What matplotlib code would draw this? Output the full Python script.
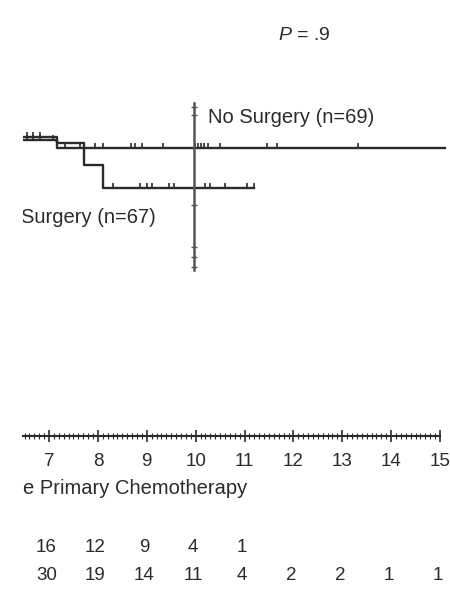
import numpy as np
import matplotlib
matplotlib.use('Agg')
import matplotlib.pyplot as plt
from matplotlib.transforms import blended_transform_factory

plt.rcParams['font.family'] = ['Liberation Sans', 'DejaVu Sans']
plt.rcParams['mathtext.fontset'] = 'custom'
plt.rcParams['mathtext.it'] = 'Liberation Sans:italic'
plt.rcParams['mathtext.rm'] = 'Liberation Sans'

### DATA (years since primary chemo, survival fraction) ###
years = [7, 8, 9, 10, 11, 12, 13, 14, 15]

surg_t = [6.40, 7.17, 7.72, 8.10, 11.20]
surg_s = [0.925, 0.916, 0.847, 0.775, 0.775]
surg_cens = [6.55, 6.67, 6.82, 7.08, 8.31, 8.86, 9.00, 9.10, 9.45, 9.55,
             10.19, 10.29, 10.60, 11.05, 11.20]

nosurg_t = [6.40, 7.17, 15.10]
nosurg_s = [0.934, 0.900, 0.900]
nosurg_cens = [6.55, 6.67, 6.82, 7.33, 7.63, 7.94, 8.10, 8.68, 8.75, 8.90,
               9.33, 9.98, 10.04, 10.10, 10.17, 10.25, 10.50, 11.46, 11.66, 13.32]

# odd vertical bar seen in the scan
vbar_x = 9.965
vbar_y = [1.04, 0.519]
vbar_ticks = [1.028, 1.003, 0.722, 0.591, 0.559, 0.528]

risk_surg = [16, 12, 9, 4, 1]
risk_nosurg = [30, 19, 14, 11, 4, 2, 2, 1, 1]

col = '#2b2b2b'

fig = plt.figure(figsize=(4.5, 5.89), dpi=100)
ax = fig.add_axes([23/450, 153/589, 427/450, 336/589])
ax.set_xlim(6.468, 15.204)
ax.set_ylim(0, 1.05)

def km_value(t, tt, ss):
    idx = np.searchsorted(tt, t, side='right') - 1
    return np.array(ss)[idx]

for tt, ss, cens in [(surg_t, surg_s, surg_cens), (nosurg_t, nosurg_s, nosurg_cens)]:
    ax.step(tt, ss, where='post', color=col, lw=1.7)
    ax.plot(cens, km_value(np.array(cens), tt, ss) + 0.006, ls='none', marker='|',
            ms=5, mew=1.2, color=col)

ax.plot([vbar_x, vbar_x], vbar_y, color='#555555', lw=1.8)
ax.plot([vbar_x]*len(vbar_ticks), vbar_ticks, ls='none', marker='_', ms=5, mew=1.0, color='#555555')

ax.text(10.25, 0.994, 'No Surgery (n=69)', fontsize=14.5, color=col, va='center', ha='left')
ax.text(6.43, 0.684, 'Surgery (n=67)', fontsize=14.5, color=col, va='center', ha='left', clip_on=True)

for s in ['top', 'right', 'left']:
    ax.spines[s].set_visible(False)
ax.spines['bottom'].set_bounds(6.468, 15)
ax.spines['bottom'].set_linewidth(1.5)
ax.spines['bottom'].set_color(col)
ax.set_yticks([])
ax.set_xticks(years)
ax.set_xticklabels([str(y) for y in years])
ax.set_xticks(np.arange(6.5, 15.01, 0.1), minor=True)
ax.tick_params(axis='x', which='major', direction='inout', length=8, width=1.2,
               colors=col, labelsize=13.5, pad=8)
ax.tick_params(axis='x', which='minor', direction='inout', length=4, width=0.8, colors=col)

fig.text(23/450, 1 - 488/589, 'e Primary Chemotherapy', fontsize=14.5, color=col,
         va='center', ha='left')
fig.text(304/450, 1 - 36/589, r'$P$ = .9', fontsize=14, color=col, va='center', ha='center')

tr = blended_transform_factory(ax.transData, fig.transFigure)
for yr, n in zip(years, risk_surg):
    ax.text(yr - 0.05, 1 - 547/589, str(n), transform=tr, fontsize=13.5, color=col,
            ha='center', va='center', clip_on=False)
for yr, n in zip(years, risk_nosurg):
    ax.text(yr - 0.05, 1 - 575/589, str(n), transform=tr, fontsize=13.5, color=col,
            ha='center', va='center', clip_on=False)

fig.savefig('out.png', dpi=100)
